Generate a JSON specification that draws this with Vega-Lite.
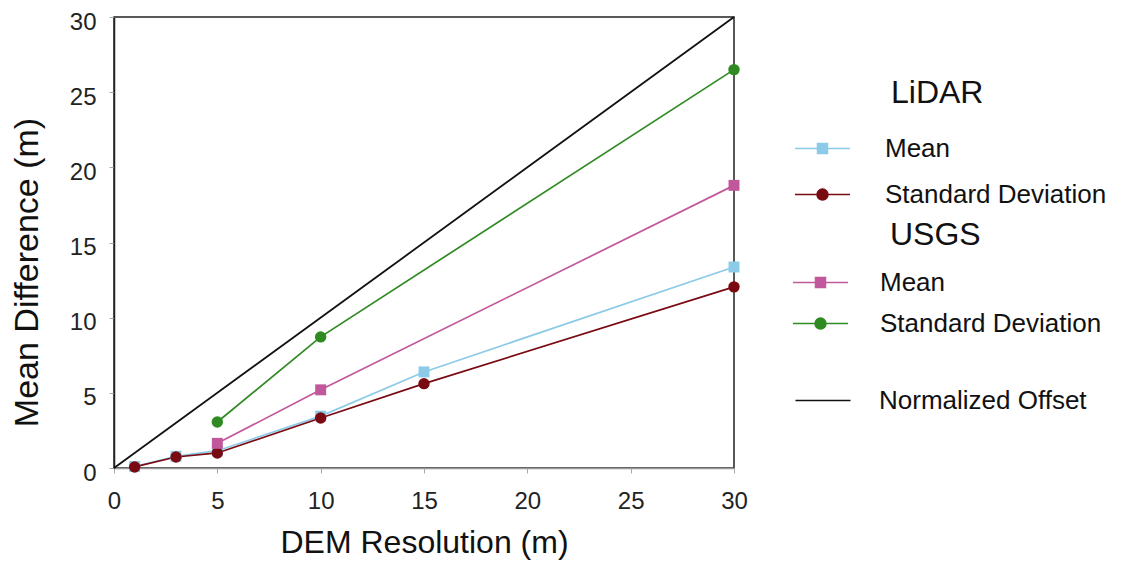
{
  "$schema": "https://vega.github.io/schema/vega-lite/v6.json",
  "width": 620,
  "height": 451,
  "autosize": {"type": "none"},
  "padding": {"left": 114, "top": 17, "right": 391, "bottom": 93},
  "background": "white",
  "config": {
    "font": "Liberation Sans",
    "view": {"stroke": "#222", "strokeWidth": 1.5},
    "legend": {"padding": 0, "labelLimit": 400, "titleLimit": 400}
  },
  "datasets": {
    "lidar": [
      {"res": 1, "diff": 0.1, "series": "Mean"},
      {"res": 3, "diff": 0.78, "series": "Mean"},
      {"res": 5, "diff": 1.15, "series": "Mean"},
      {"res": 10, "diff": 3.45, "series": "Mean"},
      {"res": 15, "diff": 6.39, "series": "Mean"},
      {"res": 30, "diff": 13.37, "series": "Mean"},
      {"res": 1, "diff": 0.07, "series": "Standard Deviation"},
      {"res": 3, "diff": 0.73, "series": "Standard Deviation"},
      {"res": 5, "diff": 1.0, "series": "Standard Deviation"},
      {"res": 10, "diff": 3.33, "series": "Standard Deviation"},
      {"res": 15, "diff": 5.61, "series": "Standard Deviation"},
      {"res": 30, "diff": 12.05, "series": "Standard Deviation"}
    ],
    "usgs": [
      {"res": 5, "diff": 1.64, "series": "Mean"},
      {"res": 10, "diff": 5.2, "series": "Mean"},
      {"res": 30, "diff": 18.8, "series": "Mean"},
      {"res": 5, "diff": 3.06, "series": "Standard Deviation"},
      {"res": 10, "diff": 8.72, "series": "Standard Deviation"},
      {"res": 30, "diff": 26.5, "series": "Standard Deviation"}
    ],
    "offset": [
      {"res": 0, "diff": 0, "series": "Normalized Offset"},
      {"res": 30, "diff": 30, "series": "Normalized Offset"}
    ]
  },
  "encoding": {
    "x": {
      "field": "res",
      "type": "quantitative",
      "scale": {"domain": [0, 30], "nice": false, "zero": true},
      "axis": {
        "title": "DEM Resolution (m)",
        "values": [0, 5, 10, 15, 20, 25, 30],
        "grid": false,
        "labelFlush": false,
        "labelFontSize": 24,
        "labelColor": "#222",
        "labelPadding": 16.5,
        "tickSize": 5,
        "tickColor": "#aaa",
        "domainColor": "#999",
        "domainWidth": 1.5,
        "titleFontSize": 32,
        "titleFontWeight": "normal",
        "titleColor": "#111",
        "titleY": 84,
        "titleBaseline": "alphabetic"
      }
    },
    "y": {
      "field": "diff",
      "type": "quantitative",
      "scale": {"domain": [0, 30], "nice": false},
      "axis": {
        "title": "Mean Difference (m)",
        "values": [0, 5, 10, 15, 20, 25, 30],
        "grid": false,
        "labelFlush": false,
        "labelFontSize": 24,
        "labelColor": "#222",
        "labelPadding": 13,
        "labelOffset": 5,
        "tickSize": 5,
        "tickColor": "#aaa",
        "domainColor": "#222",
        "domainWidth": 1.5,
        "titleFontSize": 34,
        "titleFontWeight": "normal",
        "titleColor": "#111",
        "titleX": -77,
        "titleY": 255,
        "titleBaseline": "alphabetic"
      }
    }
  },
  "layer": [
    {
      "data": {"name": "offset"},
      "mark": {"type": "line", "strokeWidth": 1.8},
      "encoding": {
        "color": {
          "field": "series",
          "type": "nominal",
          "scale": {"domain": ["Normalized Offset"], "range": ["#111111"]},
          "legend": {
            "title": null,
            "orient": "none",
            "legendX": 696,
            "legendY": 370.5,
            "labelFontSize": 26,
            "labelColor": "#111",
            "labelOffset": 43,
            "symbolSize": 400,
            "symbolStrokeWidth": 1.5,
            "encode": {
              "symbols": {
                "update": {
                  "shape": {"value": "M-2.75,0H2.75"},
                  "fill": {"value": "transparent"},
                  "stroke": {"value": "#111111"},
                  "strokeWidth": {"value": 1.5},
                  "opacity": {"value": 1}
                }
              }
            }
          }
        }
      }
    },
    {
      "data": {"name": "lidar"},
      "encoding": {
        "color": {
          "field": "series",
          "type": "nominal",
          "scale": {"domain": ["Mean", "Standard Deviation"], "range": ["#8ccbe8", "#7a0a12"]},
          "legend": {
            "title": "LiDAR",
            "orient": "none",
            "legendX": 695.5,
            "legendY": 60.6,
            "titleFontSize": 32,
            "titleFontWeight": "normal",
            "titleColor": "#111",
            "titlePadding": 26,
            "labelFontSize": 26,
            "labelColor": "#111",
            "labelOffset": 49.5,
            "rowPadding": 20,
            "symbolSize": 400,
            "symbolStrokeWidth": 1.5,
            "encode": {
              "title": {"update": {"dx": {"value": 81.5}}},
              "symbols": {
                "update": {
                  "shape": {"signal": "datum.value === 'Mean' ? 'M-2.75,0H2.75M-0.5,-0.5H0.5V0.5H-0.5Z' : 'M-2.75,0H2.75M-0.55,0A0.55,0.55,0,1,0,0.55,0A0.55,0.55,0,1,0,-0.55,0Z'"},
                  "fill": {"signal": "datum.value === 'Mean' ? '#8ccbe8' : '#7a0a12'"},
                  "stroke": {"signal": "datum.value === 'Mean' ? '#8ccbe8' : '#7a0a12'"},
                  "strokeWidth": {"value": 1.5},
                  "opacity": {"value": 1}
                }
              }
            }
          }
        }
      },
      "layer": [
        {"mark": {"type": "line", "strokeWidth": 1.7}},
        {
          "transform": [{"filter": "datum.series === 'Mean'"}],
          "mark": {"type": "point", "shape": "square", "filled": true, "opacity": 1, "size": 120}
        },
        {
          "transform": [{"filter": "datum.series === 'Standard Deviation'"}],
          "mark": {"type": "point", "shape": "circle", "filled": true, "opacity": 1, "size": 130}
        }
      ]
    },
    {
      "data": {"name": "usgs"},
      "encoding": {
        "color": {
          "field": "series",
          "type": "nominal",
          "scale": {"domain": ["Mean", "Standard Deviation"], "range": ["#c2589c", "#2f8a22"]},
          "legend": {
            "title": "USGS",
            "orient": "none",
            "legendX": 693.5,
            "legendY": 202.6,
            "titleFontSize": 32,
            "titleFontWeight": "normal",
            "titleColor": "#111",
            "titlePadding": 18,
            "labelFontSize": 26,
            "labelColor": "#111",
            "labelOffset": 46.5,
            "rowPadding": 15,
            "symbolSize": 400,
            "symbolStrokeWidth": 1.5,
            "encode": {
              "title": {"update": {"dx": {"value": 82.5}}},
              "symbols": {
                "update": {
                  "shape": {"signal": "datum.value === 'Mean' ? 'M-2.75,0H2.75M-0.5,-0.5H0.5V0.5H-0.5Z' : 'M-2.75,0H2.75M-0.55,0A0.55,0.55,0,1,0,0.55,0A0.55,0.55,0,1,0,-0.55,0Z'"},
                  "fill": {"signal": "datum.value === 'Mean' ? '#c2589c' : '#2f8a22'"},
                  "stroke": {"signal": "datum.value === 'Mean' ? '#c2589c' : '#2f8a22'"},
                  "strokeWidth": {"value": 1.5},
                  "opacity": {"value": 1}
                }
              }
            }
          }
        }
      },
      "layer": [
        {"mark": {"type": "line", "strokeWidth": 1.7}},
        {
          "transform": [{"filter": "datum.series === 'Mean'"}],
          "mark": {"type": "point", "shape": "square", "filled": true, "opacity": 1, "size": 120}
        },
        {
          "transform": [{"filter": "datum.series === 'Standard Deviation'"}],
          "mark": {"type": "point", "shape": "circle", "filled": true, "opacity": 1, "size": 130}
        }
      ]
    }
  ],
  "resolve": {"scale": {"color": "independent"}}
}
